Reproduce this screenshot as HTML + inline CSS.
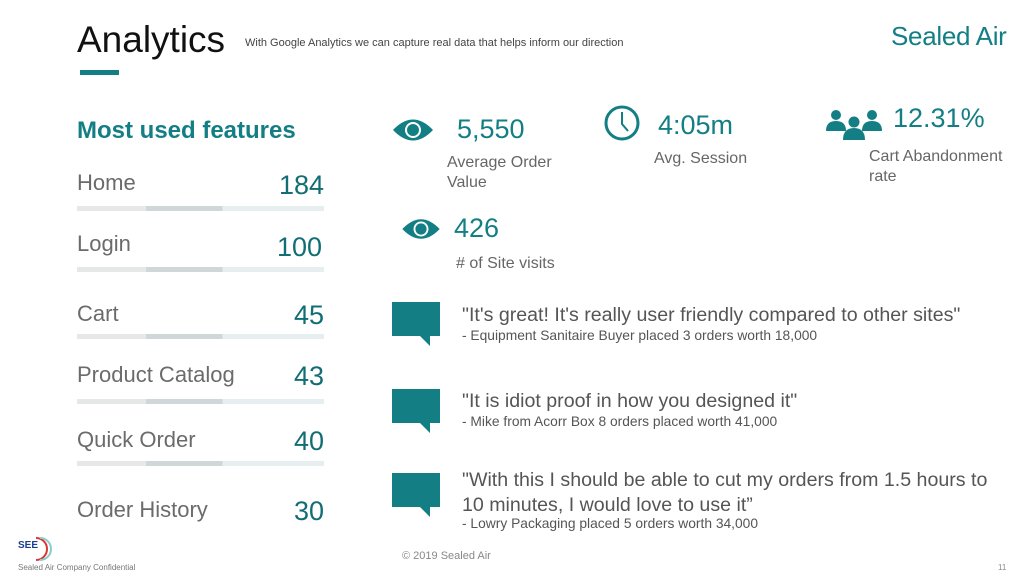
<!DOCTYPE html>
<html><head><style>
body{margin:0;width:1023px;height:574px;background:#fff;position:relative;overflow:hidden;font-family:"Liberation Sans",sans-serif}
.a{position:absolute;white-space:nowrap}
.lab{font-size:22px;color:#6b6b6b;left:77px}
.val{font-size:27px;color:#126e74;right:699px;text-align:right}
.bar{position:absolute;left:77px;width:247px;height:5px;background:linear-gradient(90deg,#e6e8e8 0 28%,#d0d7d9 28% 59%,#e6eef0 59%)}
.big{font-size:27px;color:#137f85}
.sub{font-size:16px;color:#666;line-height:20px}
.q{font-size:19.6px;color:#555;line-height:25px}
.qs{font-size:13.8px;color:#555}
.bub{position:absolute;left:392px;width:48px;height:34px;background:#137f85}
.bub:after{content:"";position:absolute;left:28px;top:34px;border-left:10px solid transparent;border-top:10px solid #137f85}
</style></head><body>
<div class="a" style="left:77px;top:19px;font-size:37px;color:#111">Analytics</div>
<div class="a" style="left:245px;top:37px;font-size:11px;color:#444">With Google Analytics we can capture real data that helps inform our direction</div>
<div class="a" style="left:80px;top:70px;width:39px;height:5px;background:#137f85"></div>
<div class="a" style="left:891px;top:21px;font-size:26px;color:#137f85;letter-spacing:-0.3px">Sealed Air</div>
<div class="a" style="left:77px;top:117px;font-size:24px;font-weight:bold;color:#137f85">Most used features</div>

<div class="a lab" style="top:170px">Home</div><div class="a val" style="top:170px">184</div><div class="bar" style="top:206px"></div>
<div class="a lab" style="top:231px">Login</div><div class="a val" style="top:232px;right:701px">100</div><div class="bar" style="top:267px"></div>
<div class="a lab" style="top:301px">Cart</div><div class="a val" style="top:300px">45</div><div class="bar" style="top:334px"></div>
<div class="a lab" style="top:362px">Product Catalog</div><div class="a val" style="top:361px">43</div><div class="bar" style="top:399px"></div>
<div class="a lab" style="top:427px">Quick Order</div><div class="a val" style="top:426px">40</div><div class="bar" style="top:461px"></div>
<div class="a lab" style="top:497px">Order History</div><div class="a val" style="top:496px">30</div>

<svg class="a" style="left:391px;top:115px" width="44" height="30" viewBox="0 0 44 30"><path d="M2 15Q22-6 42 15Q22 36 2 15Z" fill="#137f85"/><circle cx="22" cy="15" r="8" fill="#fff"/><circle cx="22" cy="15" r="6" fill="#137f85"/></svg>
<div class="a big" style="left:457px;top:114px">5,550</div>
<div class="a sub" style="left:447px;top:153px">Average Order<br>Value</div>
<svg class="a" style="left:603px;top:104px" width="38" height="38"><circle cx="19" cy="19" r="16" fill="none" stroke="#137f85" stroke-width="3"/><path d="M19 8V20L25 27" fill="none" stroke="#137f85" stroke-width="2"/></svg>
<div class="a big" style="left:658px;top:110px">4:05m</div>
<div class="a sub" style="left:654px;top:149px">Avg. Session</div>
<svg class="a" style="left:824px;top:107px" width="60" height="34"><g fill="#137f85"><circle cx="12" cy="8" r="5"/><path d="M2 24Q2 14 12 14Q22 14 22 24Z"/><circle cx="48" cy="8" r="5"/><path d="M38 24Q38 14 48 14Q58 14 58 24Z"/><circle cx="30" cy="15" r="5.5"/><path d="M19 33Q19 21 30 21Q41 21 41 33Z"/></g></svg>
<div class="a big" style="left:893px;top:103px">12.31%</div>
<div class="a sub" style="left:869px;top:147px">Cart Abandonment<br>rate</div>
<svg class="a" style="left:400px;top:215px" width="42" height="28" viewBox="0 0 44 30"><path d="M2 15Q22-6 42 15Q22 36 2 15Z" fill="#137f85"/><circle cx="22" cy="15" r="8" fill="#fff"/><circle cx="22" cy="15" r="6" fill="#137f85"/></svg>
<div class="a big" style="left:454px;top:213px">426</div>
<div class="a sub" style="left:456px;top:254px"># of Site visits</div>

<div class="bub" style="top:302px"></div>
<div class="a q" style="left:462px;top:303px">"It's great! It's really user friendly compared to other sites"</div>
<div class="a qs" style="left:462px;top:328px">- Equipment Sanitaire Buyer placed 3 orders worth 18,000</div>
<div class="bub" style="top:389px"></div>
<div class="a q" style="left:462px;top:389px">"It is idiot proof in how you designed it"</div>
<div class="a qs" style="left:462px;top:414px">- Mike from Acorr Box 8 orders placed worth 41,000</div>
<div class="bub" style="top:473px"></div>
<div class="a q" style="left:462px;top:468px">"With this I should be able to cut my orders from 1.5 hours to<br>10 minutes, I would love to use it”</div>
<div class="a qs" style="left:462px;top:516px">- Lowry Packaging placed 5 orders worth 34,000</div>

<div class="a" style="left:402px;top:550px;font-size:11px;color:#888">© 2019 Sealed Air</div>
<div class="a" style="left:998px;top:563px;font-size:8px;color:#888">11</div>
<div class="a" style="left:18px;top:540px;font-size:10px;font-weight:bold;color:#1a3d8f">SEE</div>
<svg class="a" style="left:30px;top:536px" width="22" height="26"><path d="M6 2A11 11 0 0 1 6 24" fill="none" stroke="#d33" stroke-width="2"/><path d="M10 2A11 11 0 0 1 10 24" fill="none" stroke="#8cc" stroke-width="2"/></svg>
<div class="a" style="left:18px;top:563px;font-size:8px;color:#777">Sealed Air Company Confidential</div>
</body></html>
